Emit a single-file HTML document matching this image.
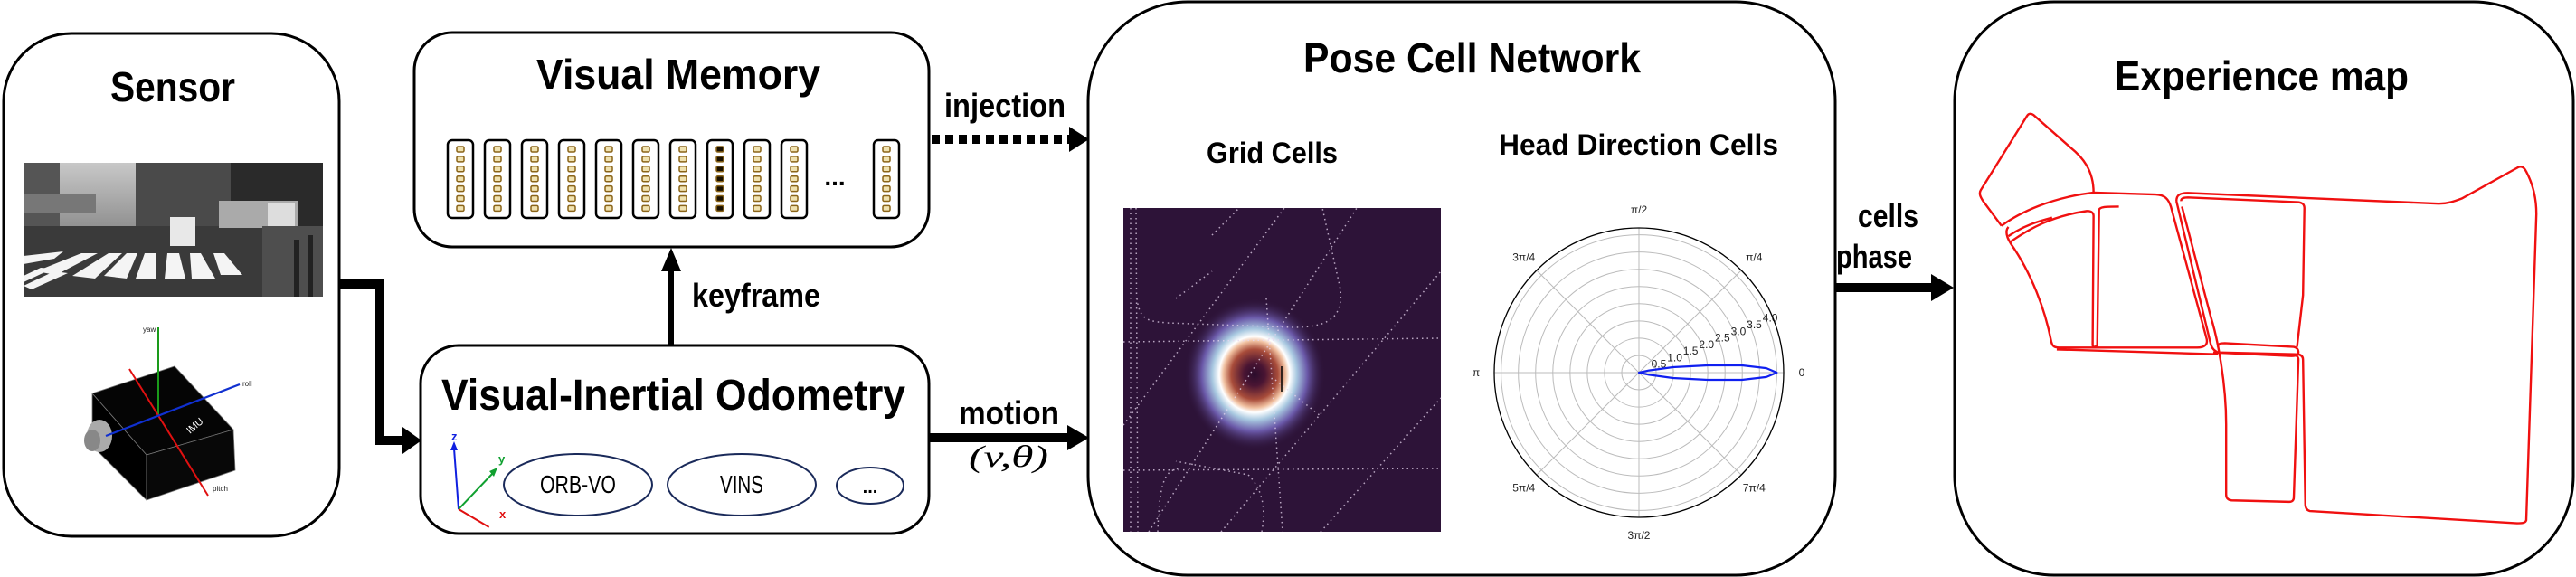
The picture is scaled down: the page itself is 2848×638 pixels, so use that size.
<!DOCTYPE html>
<html><head><meta charset="utf-8"><style>
html,body{margin:0;padding:0;background:#fff;}
svg{display:block;}
.t{font-family:"Liberation Sans Narrow","Liberation Sans",sans-serif;font-weight:bold;fill:#000;}
.n{font-weight:normal;}
.pl{font-family:"Liberation Sans",sans-serif;font-size:12px;fill:#222;}
</style></head><body>
<svg id="root" width="2848" height="638" viewBox="0 0 2848 638" xmlns="http://www.w3.org/2000/svg">
<defs>
<radialGradient id="blob" cx="0.5" cy="0.5" r="0.5">
<stop offset="0" stop-color="#2a0c2c"/>
<stop offset="0.15" stop-color="#4a1533"/>
<stop offset="0.33" stop-color="#a84c3a"/>
<stop offset="0.44" stop-color="#f0c0a0"/>
<stop offset="0.5" stop-color="#ffffff"/>
<stop offset="0.6" stop-color="#a8c8e0"/>
<stop offset="0.75" stop-color="#6a58a8"/>
<stop offset="1" stop-color="#2d1338" stop-opacity="0"/>
</radialGradient>
<linearGradient id="sky" x1="0" y1="0" x2="0" y2="1">
<stop offset="0" stop-color="#c8c8c8"/><stop offset="1" stop-color="#555"/>
</linearGradient>
</defs>

<!-- Sensor box -->
<g>
<rect x="4" y="37" width="371" height="556" rx="75" fill="#fff" stroke="#000" stroke-width="3"/>
<text class="t" x="191" y="112" font-size="46" text-anchor="middle" textLength="138" lengthAdjust="spacingAndGlyphs">Sensor</text>
<g>
<rect x="26" y="180" width="331" height="148" fill="url(#sky)"/>
<rect x="26" y="180" width="40" height="70" fill="#555"/>
<rect x="150" y="180" width="110" height="75" fill="#4a4a4a"/>
<rect x="255" y="180" width="102" height="70" fill="#2a2a2a"/>
<rect x="26" y="215" width="80" height="20" fill="#777"/>
<rect x="26" y="250" width="331" height="78" fill="#3a3a3a"/>
<rect x="242" y="222" width="88" height="30" fill="#aaa"/>
<rect x="296" y="224" width="30" height="26" fill="#ddd"/>
<rect x="188" y="240" width="28" height="32" fill="#e8e8e8"/>
<g fill="#f4f4f4">
<polygon points="26,283 70,278 60,286 26,292"/><polygon points="40,300 90,280 108,280 62,304"/>
<polygon points="80,305 120,280 135,280 105,308"/><polygon points="115,305 140,280 152,280 140,308"/>
<polygon points="150,308 160,280 172,280 172,308"/><polygon points="182,308 185,280 198,280 205,308"/>
<polygon points="212,308 210,280 222,280 238,308"/><polygon points="244,304 236,280 248,280 268,304"/>
<polygon points="26,316 60,300 75,302 35,320"/><polygon points="26,305 45,296 58,297 26,312"/>
</g>
<rect x="290" y="250" width="67" height="78" fill="#4e4e4e"/>
<rect x="325" y="265" width="6" height="63" fill="#222"/>
<rect x="340" y="260" width="6" height="68" fill="#222"/>
</g>
<g>
<polygon points="102,435 193,405 258,475 162,503" fill="#050505" stroke="#777" stroke-width="0.8"/>
<polygon points="102,435 162,503 162,553 102,493" fill="#000" stroke="#777" stroke-width="0.8"/>
<polygon points="162,503 258,475 260,520 162,553" fill="#080808" stroke="#777" stroke-width="0.8"/>
<ellipse cx="110" cy="482" rx="14" ry="18" fill="#aaa"/>
<ellipse cx="102" cy="487" rx="9" ry="12" fill="#888"/>
<line x1="175" y1="362" x2="175" y2="459" stroke="#1a9a1a" stroke-width="2"/>
<line x1="143" y1="408" x2="230" y2="548" stroke="#e01010" stroke-width="2"/>
<line x1="265" y1="425" x2="117" y2="482" stroke="#1030d0" stroke-width="2.2"/>
<text x="158" y="367" font-family="Liberation Sans" font-size="8" fill="#222">yaw</text>
<text x="268" y="427" font-family="Liberation Sans" font-size="8" fill="#222">roll</text>
<text x="235" y="543" font-family="Liberation Sans" font-size="8" fill="#222">pitch</text>
<text x="210" y="480" font-family="Liberation Sans" font-size="11" fill="#fff" transform="rotate(-40 210 480)">IMU</text>
</g>
</g>

<!-- Sensor to VIO arrow -->
<polyline points="375,314 420,314 420,487 450,487" fill="none" stroke="#000" stroke-width="10"/>
<polygon points="445,472 466,487 445,502" fill="#000"/>

<!-- Visual memory -->
<g>
<rect x="458" y="36" width="569" height="237" rx="42" fill="#fff" stroke="#000" stroke-width="3"/>
<text class="t" x="750" y="98" font-size="46" text-anchor="middle" textLength="314" lengthAdjust="spacingAndGlyphs">Visual Memory</text>
<g id="memcols"></g>
<text class="t" x="923" y="205" font-size="28" text-anchor="middle">...</text>
</g>

<!-- keyframe arrow -->
<line x1="742" y1="382" x2="742" y2="296" stroke="#000" stroke-width="6"/>
<polygon points="731,300 742,274 753,300" fill="#000"/>
<text class="t" x="765" y="339" font-size="36" textLength="142" lengthAdjust="spacingAndGlyphs">keyframe</text>

<!-- injection arrow -->
<line x1="1030" y1="154" x2="1182" y2="154" stroke="#000" stroke-width="10" stroke-dasharray="9 6"/>
<polygon points="1182,140 1204,154 1182,168" fill="#000"/>
<text class="t" x="1044" y="129" font-size="36" textLength="134" lengthAdjust="spacingAndGlyphs">injection</text>

<!-- VIO -->
<g>
<rect x="465" y="382" width="562" height="208" rx="42" fill="#fff" stroke="#000" stroke-width="3"/>
<text class="t" x="488" y="453" font-size="48" textLength="513" lengthAdjust="spacingAndGlyphs">Visual-Inertial Odometry</text>
<g>
<line x1="507" y1="563" x2="502" y2="496" stroke="#1020e0" stroke-width="2"/>
<polygon points="498,498 502,488 506,498" fill="#1020e0"/>
<line x1="507" y1="563" x2="546" y2="522" stroke="#10a030" stroke-width="2"/>
<polygon points="541,521 550,517 546,527" fill="#10a030"/>
<line x1="507" y1="563" x2="546" y2="560" stroke="#e01010" stroke-width="2" transform="rotate(35 507 563)"/>
<text x="499" y="487" font-family="Liberation Sans" font-weight="bold" font-size="13" fill="#1020e0">z</text>
<text x="551" y="512" font-family="Liberation Sans" font-weight="bold" font-size="13" fill="#10a030">y</text>
<text x="552" y="573" font-family="Liberation Sans" font-weight="bold" font-size="13" fill="#e01010">x</text>
</g>
<ellipse cx="639" cy="536" rx="82" ry="34" fill="none" stroke="#1a2a5a" stroke-width="2"/>
<text class="t n" x="639" y="545" font-size="28" text-anchor="middle" textLength="84" lengthAdjust="spacingAndGlyphs">ORB-VO</text>
<ellipse cx="820" cy="536" rx="82" ry="34" fill="none" stroke="#1a2a5a" stroke-width="2"/>
<text class="t n" x="820" y="545" font-size="28" text-anchor="middle" textLength="48" lengthAdjust="spacingAndGlyphs">VINS</text>
<ellipse cx="962" cy="537" rx="37" ry="20" fill="none" stroke="#1a2a5a" stroke-width="2"/>
<text class="t" x="962" y="545" font-size="20" text-anchor="middle">...</text>
</g>

<!-- motion arrow -->
<line x1="1027" y1="484" x2="1182" y2="484" stroke="#000" stroke-width="10"/>
<polygon points="1180,470 1204,484 1180,498" fill="#000"/>
<text class="t" x="1060" y="469" font-size="36" textLength="111" lengthAdjust="spacingAndGlyphs">motion</text>
<text x="1071" y="516" font-family="Liberation Serif" font-style="italic" font-size="34" textLength="88" lengthAdjust="spacingAndGlyphs">(v,θ)</text>

<!-- Pose cell network -->
<g>
<rect x="1203" y="2" width="826" height="634" rx="110" fill="#fff" stroke="#000" stroke-width="3"/>
<text class="t" x="1441" y="80" font-size="46" textLength="373" lengthAdjust="spacingAndGlyphs">Pose Cell Network</text>
<text class="t" x="1334" y="180" font-size="32" textLength="145" lengthAdjust="spacingAndGlyphs">Grid Cells</text>
<text class="t" x="1657" y="171" font-size="32" textLength="309" lengthAdjust="spacingAndGlyphs">Head Direction Cells</text>
<g>
<rect x="1242" y="230" width="351" height="358" fill="#2d1338"/>
<ellipse cx="1387" cy="414" rx="78" ry="84" fill="url(#blob)"/>
<g fill="none" stroke="#e8d8f0" stroke-width="1.5" stroke-dasharray="1.5 4" opacity="0.75">
<path d="M1256,230 L1258,588"/><path d="M1250,230 L1250,588"/>
<path d="M1257,330 C1260,355 1270,355 1290,357 L1430,362 C1470,362 1485,350 1482,320 L1462,230"/>
<path d="M1242,378 L1593,374"/>
<path d="M1242,520 L1593,518"/>
<path d="M1280,588 C1282,525 1290,520 1305,518"/>
<path d="M1395,588 C1400,560 1395,540 1380,525 L1300,510"/>
<path d="M1242,470 L1420,230"/><path d="M1270,588 L1500,230"/>
<path d="M1350,588 L1593,300"/><path d="M1460,588 L1593,440"/>
<path d="M1340,260 L1370,230"/><path d="M1300,330 L1340,300"/>
<path d="M1400,330 L1418,588"/><path d="M1410,420 L1460,460"/>
</g>
<line x1="1417" y1="405" x2="1417" y2="433" stroke="#000" stroke-width="1.5"/>
</g>
<g id="polar"></g>
</g>

<!-- cells phase arrow -->
<line x1="2029" y1="318" x2="2138" y2="318" stroke="#000" stroke-width="10"/>
<polygon points="2135,303 2160,318 2135,333" fill="#000"/>
<text class="t" x="2054" y="251" font-size="36" textLength="67" lengthAdjust="spacingAndGlyphs">cells</text>
<text class="t" x="2030" y="296" font-size="36" textLength="84" lengthAdjust="spacingAndGlyphs">phase</text>

<!-- Experience map -->
<g>
<rect x="2161" y="2" width="684" height="634" rx="110" fill="#fff" stroke="#000" stroke-width="3"/>
<text class="t" x="2338" y="100" font-size="46" textLength="325" lengthAdjust="spacingAndGlyphs">Experience map</text>
<g transform="translate(2050,0) scale(0.5089,0.408)" fill="none" stroke="#f01010" stroke-width="2.4">
<path vector-effect="non-scaling-stroke" d="M520,522 C520,460 495,425 470,400 L390,312 C383,306 378,308 375,315 L275,515 C270,525 275,535 280,545 L320,612"/>
<path vector-effect="non-scaling-stroke" d="M320,612 C360,575 430,535 520,522 L655,527 C675,528 683,540 688,560 L765,915 C770,935 760,942 745,942 L445,942 C432,942 430,935 428,925 C415,840 385,740 340,660 C330,640 328,625 335,615"/>
<path vector-effect="non-scaling-stroke" d="M340,655 C380,620 430,585 505,572 C516,571 520,578 520,585 L518,935 C518,942 525,942 528,935 L532,568 C534,562 540,560 575,560"/>
<path vector-effect="non-scaling-stroke" d="M335,640 C370,610 400,600 430,590"/>
<path vector-effect="non-scaling-stroke" d="M700,545 C700,528 708,523 725,523 L1270,552 C1290,552 1305,545 1320,538 L1440,455 C1448,448 1455,452 1460,465 C1475,500 1482,540 1482,580 L1460,1410 C1458,1418 1450,1418 1440,1418 L990,1385 C982,1383 980,1375 980,1365 L975,975 C975,965 970,960 960,960 L790,955 C782,950 778,945 775,935 L700,545"/>
<path vector-effect="non-scaling-stroke" d="M710,545 C710,538 715,535 725,535 L965,548 C975,550 978,555 978,565 L975,800 L962,940"/>
<path vector-effect="non-scaling-stroke" d="M712,560 L775,860 C790,920 808,1040 808,1150 L808,1340 C808,1350 812,1355 820,1356 L945,1360 C952,1360 955,1355 955,1348 L965,975 C965,965 960,962 950,962"/>
<path vector-effect="non-scaling-stroke" d="M790,940 C790,932 795,930 805,930 L955,940 C962,942 965,948 965,955 C965,962 960,965 950,965 L780,955"/>
<path vector-effect="non-scaling-stroke" d="M440,947 L790,960"/>
</g>
</g>
</svg>

<script>
// Head direction polar chart data
const ringValues = [0.5, 1.0, 1.5, 2.0, 2.5, 3.0, 3.5, 4.0];
const ringLabels = ["0.5", "1.0", "1.5", "2.0", "2.5", "3.0", "3.5", "4.0"];
const angleLabels = ["0", "π/4", "π/2", "3π/4", "π", "5π/4", "3π/2", "7π/4"];
const lobeThetaDeg = [-12, -9, -6, -4, -2, 0, 2, 4, 6, 9, 12];
const lobeR = [0.3, 1.0, 2.0, 3.0, 3.7, 4.0, 3.7, 3.0, 2.0, 1.0, 0.3];
const rMax = 4.2;

// memory columns: which are active (dark)
const memActive = [0, 0, 0, 0, 0, 0, 0, 1, 0, 0, 0];

const NS = "http://www.w3.org/2000/svg";
function mk(tag, attrs, parent) {
  const e = document.createElementNS(NS, tag);
  for (const k in attrs) e.setAttribute(k, attrs[k]);
  parent.appendChild(e);
  return e;
}

// Memory columns
const mem = document.getElementById("memcols");
const colX = [495, 536, 577, 618, 659, 700, 741, 782, 823, 864, 966];
for (let i = 0; i < colX.length; i++) {
  const c = mk("rect", {x: colX[i], y: 155, width: 28, height: 86, rx: 5, fill: "#fff", stroke: "#000", "stroke-width": 2.5}, mem);
  
  
  for (let j = 0; j < 7; j++) {
    mk("rect", {x: colX[i] + 10, y: 162 + j * 10.9, width: 8, height: 6, rx: 1.5,
      fill: memActive[i] ? "#1a1000" : "#f0e2b0", stroke: "#8a6418", "stroke-width": 1.5}, mem);
  }
}

// Polar chart
const pg = document.getElementById("polar");
const cx = 1812, cy = 412, R = 160;
const rs = v => v / rMax * R;
for (let k = 0; k < 8; k++) {
  const a = k * Math.PI / 4;
  const sp = mk("line", {x1: cx, y1: cy, x2: cx + R * Math.cos(a), y2: cy - R * Math.sin(a), stroke: "#bbb", "stroke-width": 1}, pg);
  
  
  const lr = R + 20;
  const t = mk("text", {x: cx + lr * Math.cos(a), y: cy - lr * Math.sin(a) + 4, "text-anchor": "middle", class: "pl"}, pg);
  t.textContent = angleLabels[k];
  
  
}
for (let i = 0; i < ringValues.length; i++) {
  const c = mk("circle", {cx: cx, cy: cy, r: rs(ringValues[i]), fill: "none", stroke: "#bbb", "stroke-width": 1}, pg);
  
  
  const a = 22.5 * Math.PI / 180, rr = rs(ringValues[i]);
  const t = mk("text", {x: cx + rr * Math.cos(a) - 4, y: cy - rr * Math.sin(a) + 2, class: "pl"}, pg);
  t.textContent = ringLabels[i];
  
  
}
const outer = mk("circle", {cx: cx, cy: cy, r: R, fill: "none", stroke: "#000", "stroke-width": 1.3}, pg);


let d = "M" + cx + "," + cy;
for (let i = 0; i < lobeThetaDeg.length; i++) {
  const a = lobeThetaDeg[i] * Math.PI / 180, r = rs(lobeR[i]);
  d += " L" + (cx + r * Math.cos(a)).toFixed(1) + "," + (cy - r * Math.sin(a)).toFixed(1);
}
d += " Z";
const lobe = mk("path", {d: d, fill: "none", stroke: "#1020f0", "stroke-width": 2.2, "stroke-linejoin": "round"}, pg);


</script>
</body></html>
